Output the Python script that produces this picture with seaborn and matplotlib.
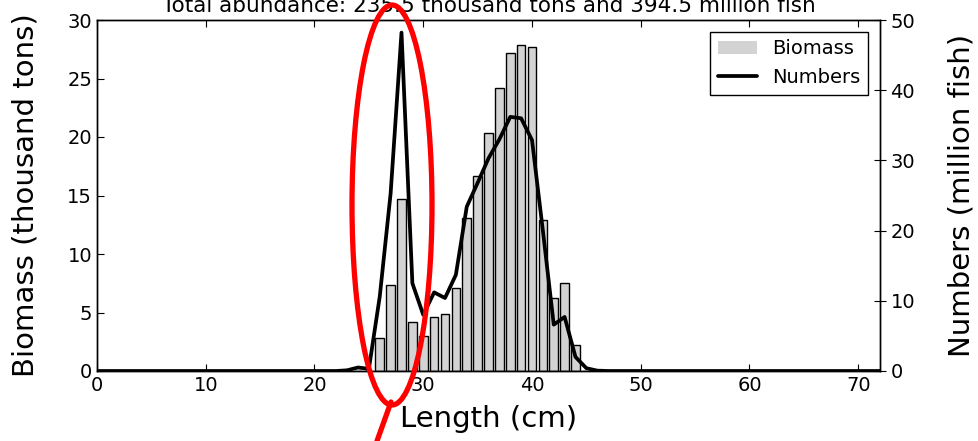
import matplotlib
matplotlib.use("Agg")
import matplotlib.pyplot as plt
from matplotlib.patches import Ellipse, Patch
from matplotlib.lines import Line2D
import seaborn as sns

# length classes (cm), one value per class
length_cm = list(range(0, 73))

# biomass per length class (thousand tons)
biomass = (
    [0.0] * 26
    + [2.8, 7.35, 14.7, 4.2, 3.0, 4.6, 4.9, 7.07, 13.1, 16.7, 20.3,
       24.2, 27.2, 27.9, 27.7, 12.9, 6.2, 7.5, 2.2]
    + [0.0] * 28
)

# numbers per length class (million fish)
numbers = (
    [0.0] * 23
    + [0.1, 0.5, 0.3, 10.6, 25.3, 48.2, 12.5, 8.0, 11.2, 10.4, 13.7, 23.4,
       26.8, 30.3, 33.0, 36.2, 36.0, 32.9, 20.0, 6.6, 7.7, 2.0, 0.4, 0.05]
    + [0.0] * 26
)

title = "Total abundance: 235.5 thousand tons and 394.5 million fish"

sns.set_style(
    "white",
    rc={
        "text.color": "black",
        "axes.labelcolor": "black",
        "xtick.color": "black",
        "ytick.color": "black",
        "axes.edgecolor": "black",
    },
)
plt.rcParams["font.family"] = ["DejaVu Sans"]
plt.rcParams["xtick.direction"] = "in"
plt.rcParams["ytick.direction"] = "in"

fig = plt.figure(figsize=(9.79, 4.41), dpi=100)
ax = fig.add_axes([97 / 979, 70 / 441, 783 / 979, 351 / 441])

sns.barplot(
    x=length_cm,
    y=biomass,
    native_scale=True,
    width=0.8,
    color="lightgray",
    saturation=1,
    edgecolor="black",
    linewidth=1,
    ax=ax,
)
ax.set_xlim(0, 72)
ax.set_ylim(0, 30)
ax.set_xticks(range(0, 80, 10))
ax.set_yticks(range(0, 35, 5))
ax.tick_params(axis="x", top=True, bottom=True, length=5, width=0.8, labelsize=14)
ax.tick_params(axis="y", left=True, right=False, length=5, width=0.8, labelsize=14)
ax.set_xlabel("Length (cm)", fontsize=21, labelpad=7)
ax.set_ylabel("Biomass (thousand tons)", fontsize=21, labelpad=20)
ax.set_title(title, fontsize=15.5, pad=6)

ax2 = ax.twinx()
sns.lineplot(x=length_cm, y=numbers, color="black", linewidth=2.7, ax=ax2)
ax2.set_ylim(0, 50)
ax2.set_xlim(0, 72)
ax2.set_yticks(range(0, 60, 10))
ax2.tick_params(axis="y", right=True, direction="inout", length=8, width=0.8, labelsize=14)
ax2.set_ylabel("Numbers (million fish)", fontsize=21, labelpad=23)

for a in (ax, ax2):
    for s in a.spines.values():
        s.set_color("black")
        s.set_linewidth(1)

handles = [
    Patch(facecolor="lightgray", edgecolor="none"),
    Line2D([0], [0], color="black", linewidth=2.7),
]
leg = ax2.legend(
    handles,
    ["Biomass", "Numbers"],
    loc="upper right",
    fontsize=14,
    frameon=True,
    fancybox=False,
    framealpha=1,
    borderaxespad=0.6,
)
leg.get_frame().set_edgecolor("black")
leg.get_frame().set_linewidth(1)

# red highlight drawn over the figure
fig.patches.append(
    Ellipse(
        (392 / 979, 1 - 205 / 441),
        80 / 979,
        400 / 441,
        transform=fig.transFigure,
        fill=False,
        edgecolor="red",
        linewidth=3.8,
    )
)
fig.lines.append(
    Line2D(
        [391 / 979, 377 / 979],
        [1 - 402 / 441, 0.0],
        transform=fig.transFigure,
        color="red",
        linewidth=3.8,
    )
)

fig.savefig("out.png", dpi=100)
